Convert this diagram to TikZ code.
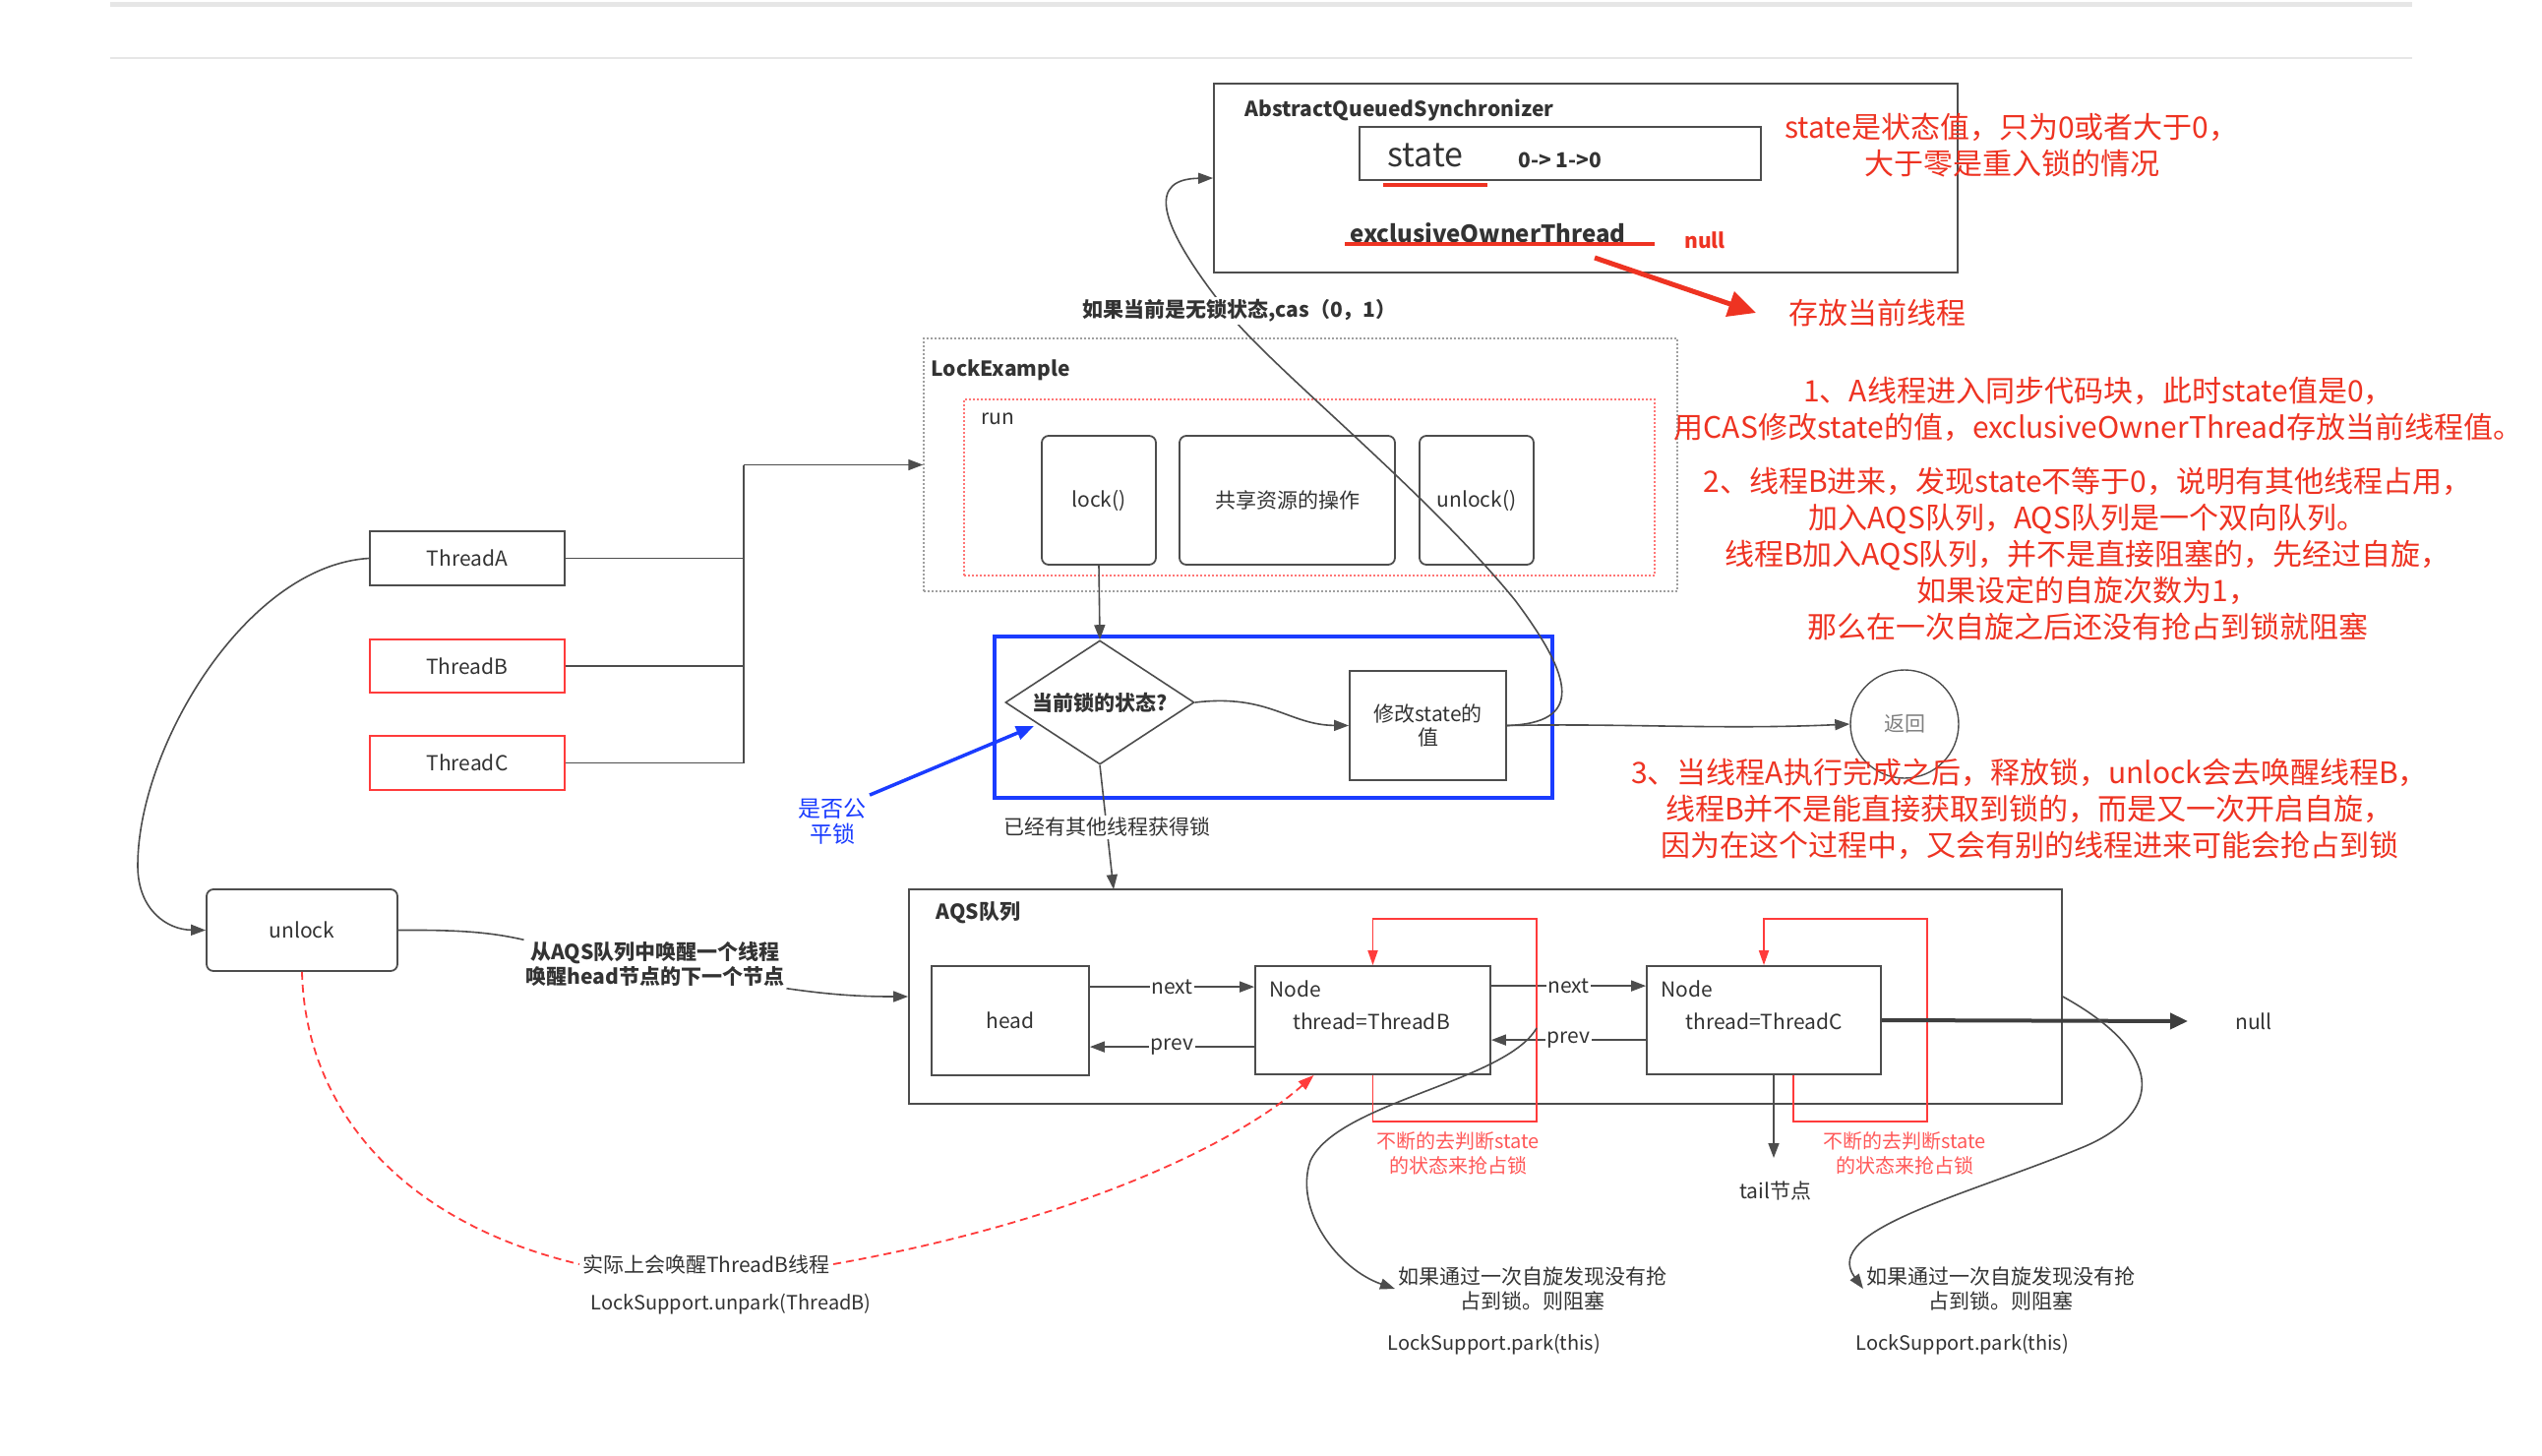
\documentclass[tikz,border=0pt]{standalone}
\usepackage{fontspec}
\setmainfont{Noto Sans CJK SC}
\usetikzlibrary{arrows.meta,shapes.geometric}
\definecolor{dk}{HTML}{4D4D4D}
\definecolor{tx}{HTML}{333333}
\definecolor{rd}{HTML}{EE3322}
\definecolor{rl}{HTML}{FF3B3B}
\definecolor{bl}{HTML}{1A3CFF}
\definecolor{lg}{HTML}{E6E6E6}
\begin{document}
\begin{tikzpicture}[x=1pt,y=-1pt,
  f21/.style={font=\fontsize{21}{25}\selectfont},
  b21/.style={font=\fontsize{21}{25}\selectfont\bfseries},
  box/.style={draw=dk,line width=1.8pt,fill=white,inner sep=0pt,text=tx,f21},
  rbox/.style={box,rounded corners=7pt},
  lnk/.style={draw=dk,line width=1.6pt},
  arr/.style={lnk,-{Triangle[length=15pt,width=11pt]}},
  redtxt/.style={text=rd,font=\fontsize{30}{37}\selectfont,align=center},
  rloop/.style={draw=rl,line width=1.8pt,-{Triangle[length=15pt,width=10pt]}},
  loopt/.style={text=rl!85,font=\fontsize{20}{25}\selectfont,align=center},
  gtxt/.style={text=tx,f21,align=center},
  lbl/.style={fill=white,f21,text=tx,inner sep=1.5pt},
]
\useasboundingbox (0,0) rectangle (2584,1480);
\fill[white] (0,0) rectangle (2584,1480);
\draw[lg,line width=5pt] (112,5) -- (2452,5);
\draw[lg,line width=2pt] (112,59) -- (2452,59);

% ---------- AbstractQueuedSynchronizer ----------
\node[box,minimum width=756pt,minimum height=192pt] (aqs) at (1612,181) {};
\node[b21,text=tx,anchor=west] (aqsT) at (1262,112) {AbstractQueuedSynchronizer};
\node[box,minimum width=408pt,minimum height=54pt] (stb) at (1586,156) {};
\node[font=\fontsize{34}{38}\selectfont,text=tx,anchor=west,inner sep=0pt] (stT) at (1410,158) {state};
\node[b21,text=tx,anchor=west,inner sep=0pt] (stV) at (1543,163) {0-> 1->0};
\node[font=\fontsize{24}{28}\selectfont\bfseries,text=tx,anchor=west,inner sep=0pt] (eot) at (1372,237) {exclusiveOwnerThread};
\node[b21,text=rd,anchor=west,inner sep=0pt] (nul1) at (1712,244) {null};
\draw[rd,line width=4.5pt] (1406,188) -- (1512,188);
\draw[rd,line width=4.5pt] (1367,248) -- (1682,248);
\node[redtxt,anchor=west,inner sep=0pt] (store) at (1818,318) {存放当前线程};
\draw[rd,line width=5pt,-{Triangle[length=28pt,width=26pt]}] (1621,262) -- ([xshift=-33pt]store.west);
\node[redtxt] (n0) at (2045,148) {state是状态值，只为0或者大于0，\\大于零是重入锁的情况};

% ---------- LockExample ----------
\node[draw=gray!75,line width=1.5pt,dash pattern=on 2pt off 2pt,minimum width=766pt,minimum height=257pt,inner sep=0pt] (lockex) at (1322,472.5) {};
\node[b21,text=tx,anchor=west] (leT) at (943,376) {LockExample};
\node[draw=rl!70,line width=1.5pt,dash pattern=on 2pt off 2pt,minimum width=702pt,minimum height=179pt,inner sep=0pt] (runb) at (1331,495.5) {};
\node[f21,text=tx,anchor=west] (runT) at (994,426) {run};
\node[rbox,minimum width=116pt,minimum height=131pt] (lk) at (1117,508.5) {lock()};
\node[rbox,minimum width=219pt,minimum height=131pt] (share) at (1308.5,508.5) {共享资源的操作};
\node[rbox,minimum width=116pt,minimum height=131pt] (ulk) at (1501,508.5) {unlock()};

% ---------- Threads ----------
\node[box,minimum width=198pt,minimum height=55pt] (thA) at (475,567.5) {ThreadA};
\node[box,draw=rl,minimum width=198pt,minimum height=54pt] (thB) at (475,677) {ThreadB};
\node[box,draw=rl,minimum width=198pt,minimum height=55pt] (thC) at (475,775.5) {ThreadC};
\coordinate (jn) at (756,472.5);
\draw[lnk] (thA.east) -| (jn);
\draw[lnk] (thB.east) -| (jn);
\draw[lnk] (thC.east) -| (jn);
\draw[arr] (jn) -- (lockex.west);

% ---------- unlock ----------
\node[rbox,minimum width=194pt,minimum height=83pt] (ul) at (307,945.5) {unlock};
\draw[arr] (thA.west) .. controls (250,575) and (140,760) .. (140,880) .. controls (140,925) and (170,945) .. (ul.west);

% ---------- AQS queue ----------
\node[box,minimum width=1172pt,minimum height=218pt] (aqsq) at (1510,1013) {};
\node[b21,text=tx,anchor=west] (aqsqT) at (948,928) {AQS队列};
\node[box,minimum width=160pt,minimum height=111pt] (head) at (1027,1037.5) {head};
\node[box,minimum width=239pt,minimum height=110pt] (nB) at (1395.5,1037) {};
\node[box,minimum width=238pt,minimum height=110pt] (nC) at (1793,1037) {};
\node[f21,text=tx,anchor=west,inner sep=0pt] (nBh) at (1290,1005) {Node};
\node[f21,text=tx] (nBt) at (1394,1038) {thread=ThreadB};
\node[f21,text=tx,anchor=west,inner sep=0pt] (nCh) at (1688,1005) {Node};
\node[f21,text=tx] (nCt) at (1793,1038) {thread=ThreadC};

\draw[arr] ([yshift=-22pt]head.north east) -- node[lbl]{next} ([yshift=-22pt]nB.north west);
\draw[arr] ([yshift=-83pt]nB.north west) -- node[lbl]{prev} ([yshift=-83pt]head.north east);
\draw[arr] ([yshift=-21pt]nB.north east) -- node[lbl]{next} ([yshift=-21pt]nC.north west);
\draw[arr] ([yshift=-76pt]nC.north west) -- node[lbl]{prev} ([yshift=-76pt]nB.north east);

\draw[rloop] (nB.south) -- ++(0,47) -| (1562,934) -| (nB.north);
\draw[rloop] ([xshift=30pt]nC.south) -- ++(0,47) -| (1959,934) -| (nC.north);
\node[loopt] (lbB) at (1482,1172) {不断的去判断state\\的状态来抢占锁};
\node[loopt] (lbC) at (1936,1172) {不断的去判断state\\的状态来抢占锁};

\coordinate (tailtip) at (1803,1177);
\draw[arr] ([xshift=10pt]nC.south) -- (tailtip);
\node[f21,text=tx] (tail) at (1805,1210) {tail节点};

\node[f21,text=tx,anchor=west,inner sep=0pt] (nul2) at (2272,1038) {null};
\draw[draw=dk!80!black,line width=4pt,-{Triangle[length=18pt,width=16pt]}] (nC.east) -- ([xshift=-48pt]nul2.west);

% wake text and arrows
\node[b21,text=tx,align=center,inner sep=2pt] (wake) at (666,980) {从AQS队列中唤醒一个线程\\唤醒head节点的下一个节点};
\draw[lnk] (ul.east) .. controls (470,945) and (500,948) .. (wake.north west);
\draw[arr] (wake.south east) .. controls (850,1012) and (880,1013) .. (aqsq.west);

\node[f21,text=tx] (wk2) at (718,1285) {实际上会唤醒ThreadB线程};
\node[font=\fontsize{20}{24}\selectfont,text=tx] (unp) at (743,1326) {LockSupport.unpark(ThreadB)};
\draw[rl,line width=1.8pt,dash pattern=on 8pt off 5pt] (ul.south) .. controls (310,1120) and (400,1240) .. (wk2.west);
\draw[rl,line width=1.8pt,dash pattern=on 8pt off 5pt,-{Triangle[length=16pt,width=11pt]}] (wk2.east) .. controls (1100,1240) and (1260,1160) .. ([xshift=-60pt]nB.south);

% park curves
\node[gtxt] (pkC) at (2034,1310) {如果通过一次自旋发现没有抢\\占到锁。则阻塞};
\node[font=\fontsize{20}{24}\selectfont,text=tx] (lsC) at (1995,1367) {LockSupport.park(this)};
\draw[arr] (aqsq.east) .. controls (2200,1070) and (2200,1130) .. (2120,1165) .. controls (2000,1215) and (1850,1250) .. (pkC.west);

\coordinate (pbS) at (1562,1045);
\node[gtxt] (pkB) at (1558,1310) {如果通过一次自旋发现没有抢\\占到锁。则阻塞};
\node[font=\fontsize{20}{24}\selectfont,text=tx] (lsB) at (1519,1367) {LockSupport.park(this)};
\draw[arr] (pbS) .. controls (1530,1100) and (1360,1120) .. (1332,1180) .. controls (1315,1230) and (1360,1290) .. (pkB.west);

% ---------- lock state decision ----------
\node[draw=bl,line width=3.5pt,minimum width=567pt,minimum height=164pt,inner sep=0pt] (blueb) at (1294.5,729) {};
\node[diamond,draw=dk,line width=1.6pt,shape aspect=1.52,minimum width=192pt,minimum height=126pt,inner sep=0pt,fill=white,b21,text=tx] (dia) at (1118,714) {当前锁的状态?};
\node[box,minimum width=159pt,minimum height=111pt,align=center,font=\fontsize{21}{24}\selectfont] (mod) at (1451.5,737.5) {修改state的\\值};
\node[circle,draw=dk,line width=1.4pt,minimum size=110pt,inner sep=0pt,f21,text=gray] (ret) at (1936,736) {返回};
\draw[arr] (lk.south) -- (dia.north);
\coordinate (qin) at (1132,904);
\draw[arr] (dia.south) -- node[lbl,inner sep=2pt] {已经有其他线程获得锁} (qin);
\draw[arr] (dia.east) .. controls (1290,705) and (1310,737) .. (mod.west);
\draw[arr] (mod.east) .. controls (1650,735) and (1750,742) .. (ret.west);
\draw[arr] (mod.east) .. controls (1610,735) and (1600,690) .. (1540,610) .. controls (1450,500) and (1300,380) .. (1250,320) .. controls (1170,220) and (1170,182) .. (aqs.west);
\node[b21,text=tx,fill=white,inner sep=2pt] (casT) at (1260,316) {如果当前是无锁状态,cas（0，1）};

\node[text=bl,font=\fontsize{23}{26}\selectfont,align=center] (fair) at (846,835) {是否公\\平锁};
\coordinate (fairtip) at (1051,738);
\draw[bl,line width=3.5pt,-{Triangle[length=18pt,width=14pt]}] (fair.north east) -- (fairtip);

% ---------- red notes ----------
\node[redtxt] (p1) at (2133,415.5) {1、A线程进入同步代码块，此时state值是0，\\用CAS修改state的值，exclusiveOwnerThread存放当前线程值。};
\node[redtxt] (p2) at (2122,563.5) {2、线程B进来，发现state不等于0，说明有其他线程占用，\\加入AQS队列，AQS队列是一个双向队列。\\线程B加入AQS队列，并不是直接阻塞的，先经过自旋，\\如果设定的自旋次数为1，\\那么在一次自旋之后还没有抢占到锁就阻塞};
\node[redtxt] (p3) at (2063,822.5) {3、当线程A执行完成之后，释放锁，unlock会去唤醒线程B，\\线程B并不是能直接获取到锁的，而是又一次开启自旋，\\因为在这个过程中，又会有别的线程进来可能会抢占到锁};
\end{tikzpicture}
\end{document}
